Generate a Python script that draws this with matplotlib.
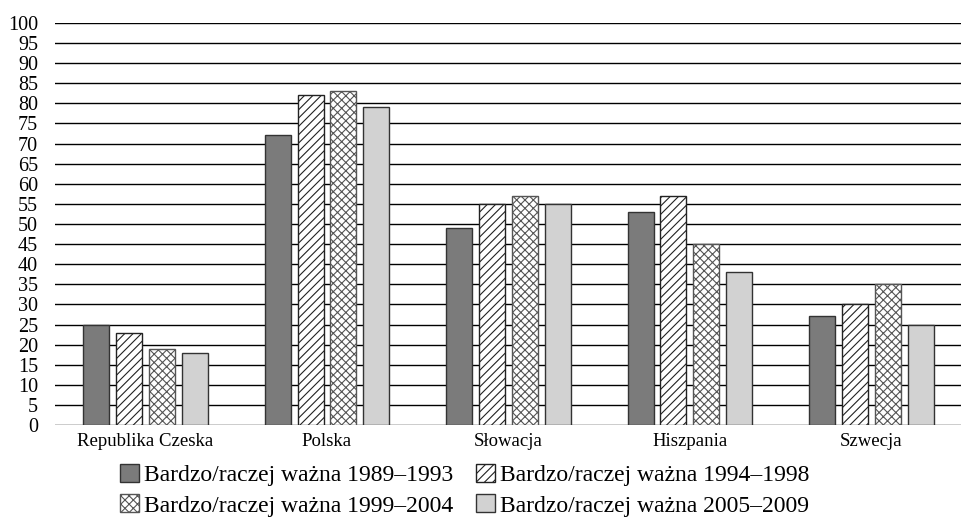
import numpy as np
import matplotlib.pyplot as plt

plt.rcParams['font.family'] = ['Liberation Serif', 'DejaVu Serif']
plt.rcParams['hatch.linewidth'] = 0.8

countries = ["Republika Czeska", "Polska", "Słowacja", "Hiszpania", "Szwecja"]
labels = ["Bardzo/raczej ważna 1989–1993", "Bardzo/raczej ważna 1994–1998",
          "Bardzo/raczej ważna 1999–2004", "Bardzo/raczej ważna 2005–2009"]
v1989 = [25, 72, 49, 53, 27]
v1994 = [23, 82, 55, 57, 30]
v1999 = [19, 83, 57, 45, 35]
v2005 = [18, 79, 55, 38, 25]
series = [v1989, v1994, v1999, v2005]

faces = ["#7b7b7b", "white", "white", "#d2d2d2"]
hatches = [None, "////", "xxxx", None]
edge_cols = ["#333333", "#222222", "#555555", "#333333"]

fig = plt.figure(figsize=(9.62, 5.19), dpi=100)
ax = fig.add_axes([0.057, 0.181, 0.943, 0.775])

x = np.arange(len(countries))
w = 0.143
step = 0.181
for i, vals in enumerate(series):
    off = (i - 1.5) * step
    ax.bar(x + off, vals, w, color=faces[i], edgecolor=edge_cols[i],
           hatch=hatches[i], linewidth=1.0, label=labels[i], zorder=3)

ax.set_ylim(0, 100)
ax.set_xlim(-0.5, 4.5)
ax.set_yticks(np.arange(0, 101, 5))
ax.yaxis.grid(True, color="black", linewidth=1.0, zorder=0)
ax.set_axisbelow(True)
for s in ax.spines.values():
    s.set_visible(False)
ax.tick_params(axis="x", length=0, labelsize=13.5, pad=6)
ax.tick_params(axis="y", length=0, labelsize=14.5, pad=12)
ax.set_xticks(x)
ax.set_xticklabels(countries)

h, l = ax.get_legend_handles_labels()
order = [0, 2, 1, 3]
fig.legend([h[k] for k in order], [l[k] for k in order], ncol=2,
           loc="upper center", bbox_to_anchor=(0.483, 0.129), frameon=False,
           fontsize=17, handlelength=0.78, handleheight=0.78, handletextpad=0.2,
           columnspacing=1.0, labelspacing=0.36, borderpad=0)

fig.savefig("out.png", dpi=100)
